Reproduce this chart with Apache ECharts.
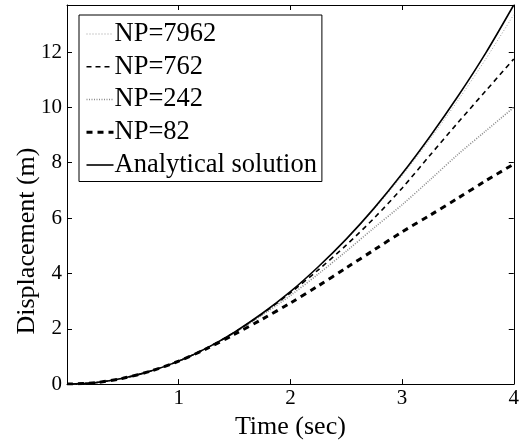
<!DOCTYPE html>
<html>
<head>
<meta charset="utf-8">
<script src="https://cdn.jsdelivr.net/npm/echarts@6/dist/echarts.min.js"></script>
<style>
html,body{margin:0;padding:0;background:#fff;}
#chart{width:522px;height:445px;}
</style>
</head>
<body>
<div id="chart"></div>
<script>
// ---- data ----
const time       = [0, 0.25, 0.5, 0.75, 1, 1.25, 1.5, 1.75, 2, 2.25, 2.5, 2.75, 3, 3.25, 3.5, 3.75, 4];
const np7962     = [0, 0.05, 0.21, 0.47, 0.83, 1.30, 1.88, 2.56, 3.34, 4.23, 5.22, 6.32, 7.53, 8.85, 10.25, 11.75, 13.35];
const np762      = [0, 0.05, 0.21, 0.47, 0.83, 1.30, 1.87, 2.54, 3.30, 4.13, 5.02, 6.00, 7.08, 8.27, 9.45, 10.60, 11.75];
const np242      = [0, 0.05, 0.21, 0.47, 0.83, 1.30, 1.86, 2.50, 3.20, 3.98, 4.80, 5.65, 6.48, 7.38, 8.30, 9.15, 10.00];
const np82       = [0, 0.05, 0.21, 0.47, 0.83, 1.28, 1.80, 2.35, 2.93, 3.55, 4.20, 4.85, 5.50, 6.10, 6.72, 7.35, 7.95];
const analytical = [0, 0.05, 0.21, 0.47, 0.83, 1.30, 1.88, 2.56, 3.34, 4.24, 5.24, 6.36, 7.60, 8.95, 10.40, 11.97, 13.70];
const seriesNames = ['NP=7962', 'NP=762', 'NP=242', 'NP=82', 'Analytical solution'];
const xLabel = 'Time (sec)';
const yLabel = 'Displacement (m)';

const FONT = "'Liberation Serif', 'Times New Roman', serif";
const pairs = ys => time.map((t, i) => [t, ys[i]]);

const styles = [
  {color: '#9a9a9a', width: 1,   type: [1, 2]},
  {color: '#000',    width: 1.6, type: [5, 4]},
  {color: '#8a8a8a', width: 1.6, type: [1, 1.5]},
  {color: '#000',    width: 3,   type: [6, 5]},
  {color: '#000',    width: 1.6, type: 'solid'}
];
const datas = [np7962, np762, np242, np82, analytical];

const xCommon = {type: 'value', min: 0, max: 4, interval: 1};
const yCommon = {type: 'value', min: 0, max: 13.7, interval: 2};
const tickInside = {show: true, inside: true, length: 5, lineStyle: {color: '#000', width: 1}};
const lineBlack = {show: true, onZero: false, lineStyle: {color: '#000', width: 1}};

const chart = echarts.init(document.getElementById('chart'), null, {renderer: 'canvas'});
chart.setOption({
  animation: false,
  backgroundColor: '#fff',
  grid: {left: 67, right: 6, top: 5, bottom: 50.5, containLabel: false},
  xAxis: [
    Object.assign({}, xCommon, {
      position: 'bottom',
      axisLine: lineBlack, axisTick: tickInside, splitLine: {show: false},
      axisLabel: {show: true, showMinLabel: false, color: '#000', fontFamily: FONT, fontSize: 21, margin: 4},
      name: xLabel, nameLocation: 'middle', nameGap: 19,
      nameTextStyle: {color: '#000', fontFamily: FONT, fontSize: 26}
    }),
    Object.assign({}, xCommon, {
      position: 'top',
      axisLine: lineBlack, axisTick: tickInside, splitLine: {show: false},
      axisLabel: {show: false}
    })
  ],
  yAxis: [
    Object.assign({}, yCommon, {
      position: 'left',
      axisLine: lineBlack, axisTick: tickInside, splitLine: {show: false},
      axisLabel: {show: true, showMaxLabel: false, color: '#000', fontFamily: FONT, fontSize: 21, margin: 5}
    }),
    Object.assign({}, yCommon, {
      position: 'right',
      axisLine: lineBlack, axisTick: tickInside, splitLine: {show: false},
      axisLabel: {show: false}
    })
  ],
  graphic: [{
    type: 'text',
    x: 27, y: 241,
    rotation: Math.PI / 2,
    style: {text: yLabel, fill: '#000', font: '26px ' + FONT, textAlign: 'center', textVerticalAlign: 'middle'}
  }],
  legend: {
    data: seriesNames.map((n, i) => ({
      name: n,
      lineStyle: {width: styles[i].width, type: styles[i].type, color: styles[i].color}
    })),
    orient: 'vertical',
    left: 79, top: 15,
    backgroundColor: '#fff',
    borderColor: '#000', borderWidth: 1, borderRadius: 0,
    padding: [5.5, 5, 3, 6],
    itemWidth: 27, itemHeight: 24, itemGap: 5.75,
    itemStyle: {opacity: 0, borderWidth: 0},
    textStyle: {color: '#000', fontFamily: FONT, fontSize: 26.5, lineHeight: 25, padding: [0,0,0,-4]}
  },
  series: seriesNames.map((n, i) => ({
    name: n,
    type: 'line',
    xAxisIndex: 0, yAxisIndex: 0,
    data: pairs(datas[i]),
    smooth: 0.3,
    symbol: 'none',
    showSymbol: false,
    z: i === 4 ? 3 : 2,
    lineStyle: {color: styles[i].color, width: styles[i].width, type: styles[i].type},
    itemStyle: {color: styles[i].color}
  }))
});
</script>
</body>
</html>
